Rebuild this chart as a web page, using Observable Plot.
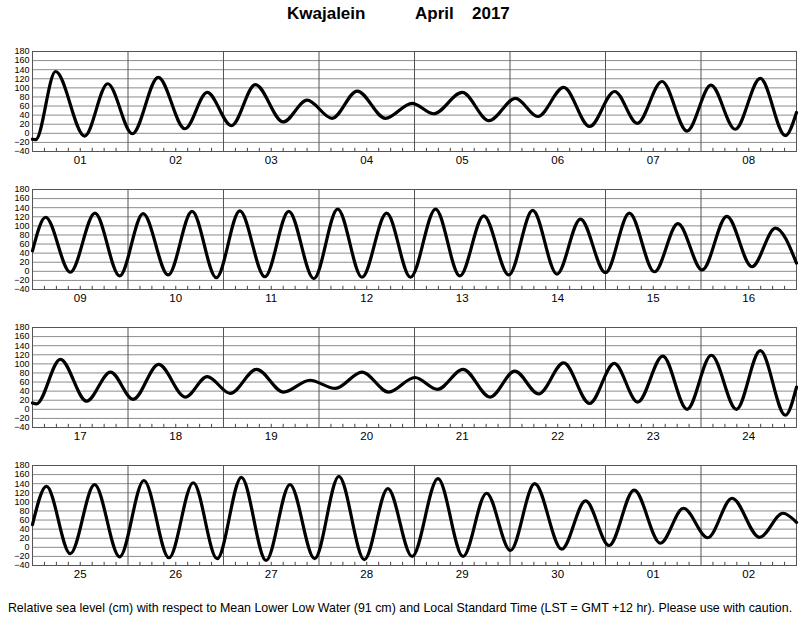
<!DOCTYPE html>
<html>
<head>
<meta charset="utf-8">
<script src="https://cdn.jsdelivr.net/npm/d3@7"></script>
<script src="https://cdn.jsdelivr.net/npm/@observablehq/plot@0.6"></script>
<style>
  body { margin: 0; background: #fff; font-family: "Liberation Sans", Arial, Helvetica, sans-serif; }
  #wrap { position: relative; width: 800px; height: 618px; overflow: hidden; background: #fff; }
  .panel { position: absolute; left: 0; }
  #caption { position: absolute; left: 0; top: 600px; width: 800px; text-align: center;
             font-size: 12.4px; line-height: 16px; color: #000; white-space: nowrap; }
</style>
</head>
<body>
<div id="wrap"></div>
<script>
// ---- Data (hours from the start of each 8-day panel, level in cm) ----
const titleStation = "Kwajalein";
const titleMonth = "April";
const titleYear = "2017";
const captionText = "Relative sea level (cm) with respect to Mean Lower Low Water (91 cm) and Local Standard Time (LST = GMT +12 hr). Please use with caution.";

const yTicks = [-40, -20, 0, 20, 40, 60, 80, 100, 120, 140, 160, 180];

const days1 = ["01", "02", "03", "04", "05", "06", "07", "08"];
const days2 = ["09", "10", "11", "12", "13", "14", "15", "16"];
const days3 = ["17", "18", "19", "20", "21", "22", "23", "24"];
const days4 = ["25", "26", "27", "28", "29", "30", "01", "02"];

const p1Hours  = [0, 0.8, 5.8, 13.1, 18.9, 25.1, 31.6, 38.3, 43.9, 50.0, 56.0, 63.0, 69.0, 75.3, 81.6, 88.7, 95.4, 100.8, 108.0, 114.7, 121.4, 127.0, 133.5, 140.0, 146.3, 152.0, 158.2, 164.5, 170.5, 176.6, 182.9, 189.2, 192];
const p1Levels = [-13, -14, 136, -6, 109, -1, 123, 10, 90, 17, 107, 25, 73, 33, 93, 33, 66, 43, 90, 28, 77, 37, 101, 15, 92, 22, 114, 5, 106, 9, 121, -5, 46];

const p2Hours  = [0, 3.3, 9.5, 15.7, 21.9, 27.8, 34.1, 40.1, 46.2, 52.1, 58.4, 64.4, 70.7, 76.7, 82.8, 89.0, 95.0, 101.3, 107.4, 113.4, 119.7, 125.7, 131.8, 137.7, 144.0, 150.0, 156.3, 162.2, 168.3, 174.5, 180.8, 186.7, 192];
const p2Levels = [45, 119, -2, 128, -10, 127, -8, 132, -14, 133, -12, 132, -16, 137, -13, 128, -13, 137, -10, 122, -8, 134, -6, 115, -3, 128, -1, 105, 3, 121, 10, 95, 18];

const p3Hours  = [0, 1.0, 7.0, 13.6, 19.6, 25.3, 31.7, 38.4, 43.9, 49.7, 56.3, 63.1, 69.7, 76.1, 82.8, 89.5, 96.1, 101.8, 108.2, 115.0, 121.2, 127.2, 133.5, 140.0, 146.2, 152.1, 158.4, 164.5, 170.6, 176.9, 182.9, 189.2, 192];
const p3Levels = [14, 12, 110, 18, 82, 22, 99, 27, 72, 35, 88, 38, 64, 46, 82, 38, 70, 44, 88, 27, 84, 34, 102, 13, 101, 16, 117, 0, 119, 0, 129, -13, 49];

const p4Hours  = [0, 3.5, 9.5, 15.6, 21.9, 28.0, 34.3, 40.4, 46.4, 52.5, 58.7, 64.7, 70.9, 77.0, 83.4, 89.3, 95.4, 101.9, 108.2, 114.1, 120.1, 126.2, 133.0, 139.0, 144.9, 151.2, 157.8, 163.6, 169.7, 175.8, 182.7, 188.6, 192];
const p4Levels = [50, 134, -14, 138, -21, 147, -23, 142, -25, 154, -29, 138, -25, 156, -27, 129, -20, 151, -20, 119, -7, 140, -4, 102, 4, 126, 9, 86, 21, 108, 22, 75, 55];

const panels = [
  {days: days1, hours: p1Hours, levels: p1Levels},
  {days: days2, hours: p2Hours, levels: p2Levels},
  {days: days3, hours: p3Hours, levels: p3Levels},
  {days: days4, hours: p4Hours, levels: p4Levels}
];

// ---- Layout ----
const wrap = document.getElementById("wrap");
const FONT = '"Liberation Sans", Arial, Helvetica, sans-serif';

// Title
const tsvg = d3.create("svg").attr("width", 800).attr("height", 40)
  .attr("class", "panel").style("top", "0px");
const tg = tsvg.append("g").attr("font-family", FONT).attr("font-weight", "bold")
  .attr("font-size", 17).attr("fill", "#000");
tg.append("text").attr("x", 287).attr("y", 19).text(titleStation);
tg.append("text").attr("x", 415).attr("y", 19).text(titleMonth);
tg.append("text").attr("x", 472).attr("y", 19).text(titleYear);
wrap.appendChild(tsvg.node());

const totalHours = 192;
const dayBounds = d3.range(24, totalHours, 24);
const dayCenters = d3.range(12, totalHours, 24);
const minorTicks = d3.range(3, totalHours, 3).filter(h => h % 24 !== 0);

panels.forEach((p, i) => {
  const data = p.hours.map((t, j) => ({t, h: p.levels[j]}));
  const chart = Plot.plot({
    width: 800,
    height: 138,
    marginTop: 11,
    marginBottom: 27,
    marginLeft: 32,
    marginRight: 4,
    style: {fontFamily: FONT, color: "#000", background: "#fff", overflow: "visible"},
    x: {domain: [0, totalHours]},
    y: {domain: [-40, 180]},
    marks: [
      Plot.ruleY(yTicks, {stroke: "#8c8c8c", strokeWidth: 1}),
      Plot.ruleX(dayBounds, {stroke: "#555", strokeWidth: 1}),
      Plot.ruleX(minorTicks, {y1: -40, y2: -33, stroke: "#444", strokeWidth: 1}),
      Plot.frame({stroke: "#555", strokeWidth: 1}),
      Plot.line(data, {x: "t", y: "h", curve: "monotone-x", stroke: "#000", strokeWidth: 3.2, strokeLinejoin: "round"}),
      Plot.axisY({ticks: yTicks, tickSize: 0, tickPadding: 3, fontSize: 9, label: null}),
      Plot.axisX({ticks: dayCenters, tickSize: 0, tickPadding: 4, fontSize: 11.5, label: null,
                  tickFormat: d => p.days[Math.floor(d / 24)]})
    ]
  });
  chart.setAttribute("class", "panel");
  chart.style.top = (40 + i * 138) + "px";
  chart.style.position = "absolute";
  wrap.appendChild(chart);
});

const cap = document.createElement("div");
cap.id = "caption";
cap.textContent = captionText;
wrap.appendChild(cap);
</script>
</body>
</html>
